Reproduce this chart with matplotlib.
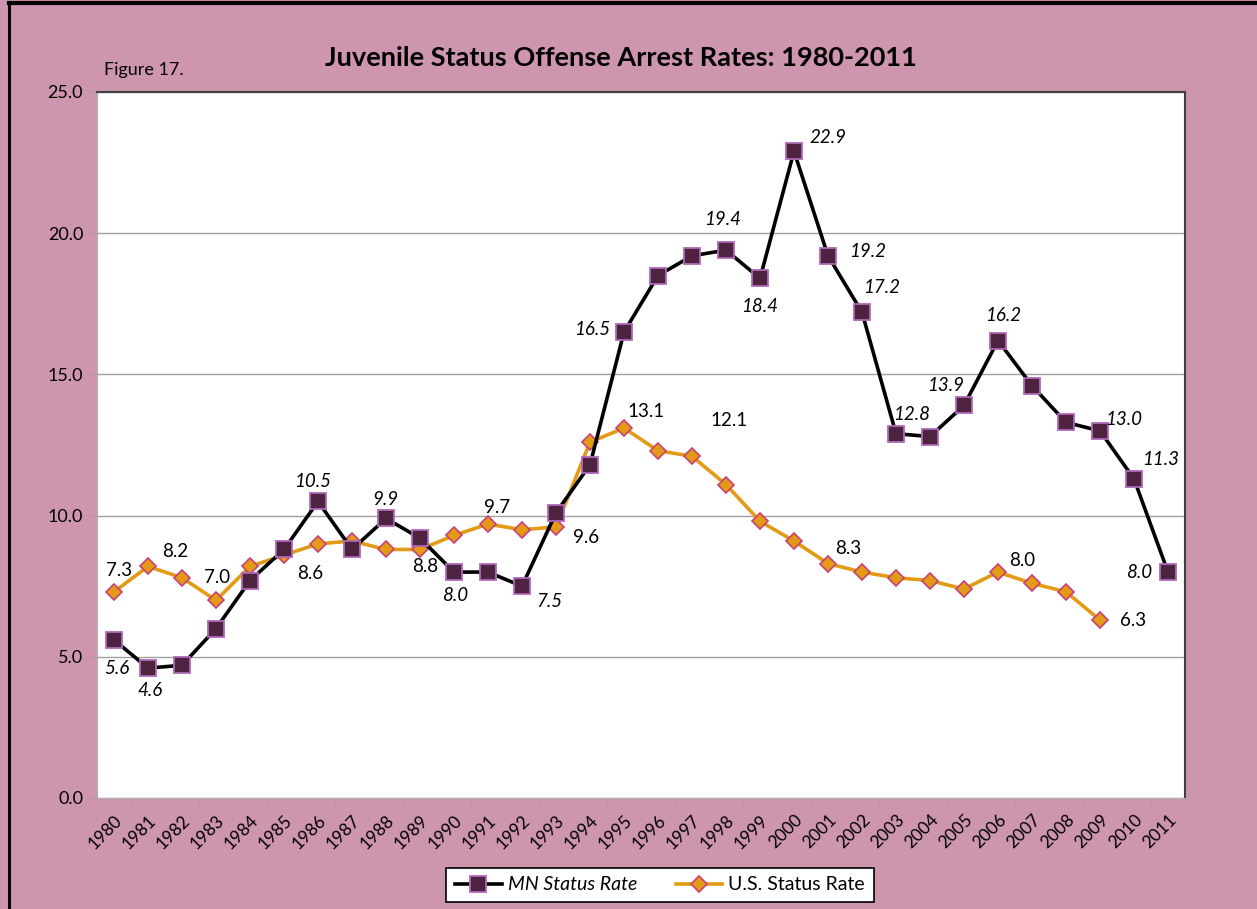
import matplotlib
matplotlib.use("Agg")
from matplotlib import pyplot as plt
from matplotlib.lines import Line2D

years = list(range(1980, 2012))
mn_rate = [5.6, 4.6, 4.7, 6.0, 7.7, 8.8, 10.5, 8.8, 9.9, 9.2, 8.0, 8.0, 7.5, 10.1, 11.8, 16.5,
           18.5, 19.2, 19.4, 18.4, 22.9, 19.2, 17.2, 12.9, 12.8, 13.9, 16.2, 14.6, 13.3, 13.0, 11.3, 8.0]
us_rate = [7.3, 8.2, 7.8, 7.0, 8.2, 8.6, 9.0, 9.1, 8.8, 8.8, 9.3, 9.7, 9.5, 9.6, 12.6, 13.1,
           12.3, 12.1, 11.1, 9.8, 9.1, 8.3, 8.0, 7.8, 7.7, 7.4, 8.0, 7.6, 7.3, 6.3]
us_years = years[:len(us_rate)]
y_ticks = [0, 5, 10, 15, 20, 25]

# label offsets in pixels (dx, dy down) from point
mn_labels = {1980: (3, 29), 1981: (2, 22), 1986: (-5, -20), 1988: (-1, -19), 1990: (1, 23),
             1992: (27, 15), 1995: (-32, -3), 1998: (-3, -31), 1999: (0, 28), 2000: (34, -14),
             2001: (40, -4), 2002: (20, -25), 2004: (-18, -22), 2005: (-18, -20), 2006: (5, -25),
             2009: (24, -11), 2010: (27, -19), 2011: (-29, 0)}
us_labels = {1980: (5, -21), 1981: (27, -15), 1983: (1, -23), 1985: (26, 18), 1989: (5, 17),
             1991: (9, -17), 1993: (30, 11), 1995: (22, -17), 1997: (37, -36), 2001: (20, -15),
             2006: (24, -12), 2009: (33, 0)}

pink = "#CE95AE"
plt.rcParams['font.family'] = ['Lato', 'DejaVu Sans']

fig = plt.figure(figsize=(12.57, 9.09), dpi=100, facecolor=pink)
ax = fig.add_axes([97 / 1257, 1 - 798 / 909, 1088 / 1257, 706 / 909])
ax.set_facecolor("white")

ax.plot(years, mn_rate, color="black", linewidth=2.6, marker="s", markersize=11,
        markerfacecolor="#4E2340", markeredgecolor="#B068B8", markeredgewidth=1.3,
        label="MN Status Rate", zorder=3)
ax.plot(us_years, us_rate, color="#E39A14", linewidth=2.6, marker="D", markersize=8.5,
        markerfacecolor="#E39A14", markeredgecolor="#C8407A", markeredgewidth=1.2,
        label="U.S. Status Rate", zorder=2)

for yr, (dx, dy) in mn_labels.items():
    v = mn_rate[years.index(yr)]
    ax.annotate(f"{v:.1f}", (yr, v), xytext=(dx, -dy), textcoords="offset pixels",
                ha="center", va="center", fontsize=13.5, style="italic", color="black", zorder=5)
for yr, (dx, dy) in us_labels.items():
    v = us_rate[years.index(yr)]
    ax.annotate(f"{v:.1f}", (yr, v), xytext=(dx, -dy), textcoords="offset pixels",
                ha="center", va="center", fontsize=13.5, color="black", zorder=5)

ax.set_xlim(years[0] - 0.5, years[-1] + 0.5)
ax.set_ylim(0, 25)
ax.set_yticks(y_ticks)
ax.set_yticklabels([f"{t:.1f}" for t in y_ticks], fontsize=13)
ax.set_xticks(years)
ax.set_xticklabels([str(y) for y in years], rotation=45, ha="right", rotation_mode="anchor",
                   fontsize=12.5)
ax.tick_params(axis="x", length=0, pad=10)
ax.set_xticks([y + 0.5 for y in [years[0] - 1] + years], minor=True)
ax.tick_params(axis="x", which="minor", length=5, color="#A0A0A0")
ax.tick_params(axis="y", length=5, color="#A0A0A0", pad=5)
ax.grid(axis="y", color="#A0A0A0", linewidth=1)
ax.set_axisbelow(True)
for side in ["left", "bottom"]:
    ax.spines[side].set_color("#B0B0B0")
for side in ["top", "right"]:
    ax.spines[side].set_color("#404040")
    ax.spines[side].set_linewidth(1.5)

fig.text(325 / 1257, 1 - 58 / 909, "Juvenile Status Offense Arrest Rates: 1980-2011",
         fontsize=19.5, fontweight="bold", ha="left", va="center")
fig.text(104 / 1257, 1 - 70 / 909, "Figure 17.", fontsize=13, ha="left", va="center")

leg = fig.legend(loc="center", bbox_to_anchor=(660 / 1257, 1 - 885 / 909), ncol=2,
                 fontsize=14, frameon=True, fancybox=False, edgecolor="black", framealpha=1,
                 handlelength=2.4, handletextpad=0.3, columnspacing=2.0, borderpad=0.45)
leg.get_frame().set_linewidth(1.2)
leg.get_texts()[0].set_style("italic")

# outer border
fig.add_artist(Line2D([9 / 1257, 9 / 1257], [0, 1 - 3 / 909], color="black", linewidth=2.2,
                      transform=fig.transFigure))
fig.add_artist(Line2D([9 / 1257, 1], [1 - 3 / 909, 1 - 3 / 909], color="black", linewidth=3,
                      transform=fig.transFigure))

fig.savefig("out.png", dpi=100, facecolor=pink)
